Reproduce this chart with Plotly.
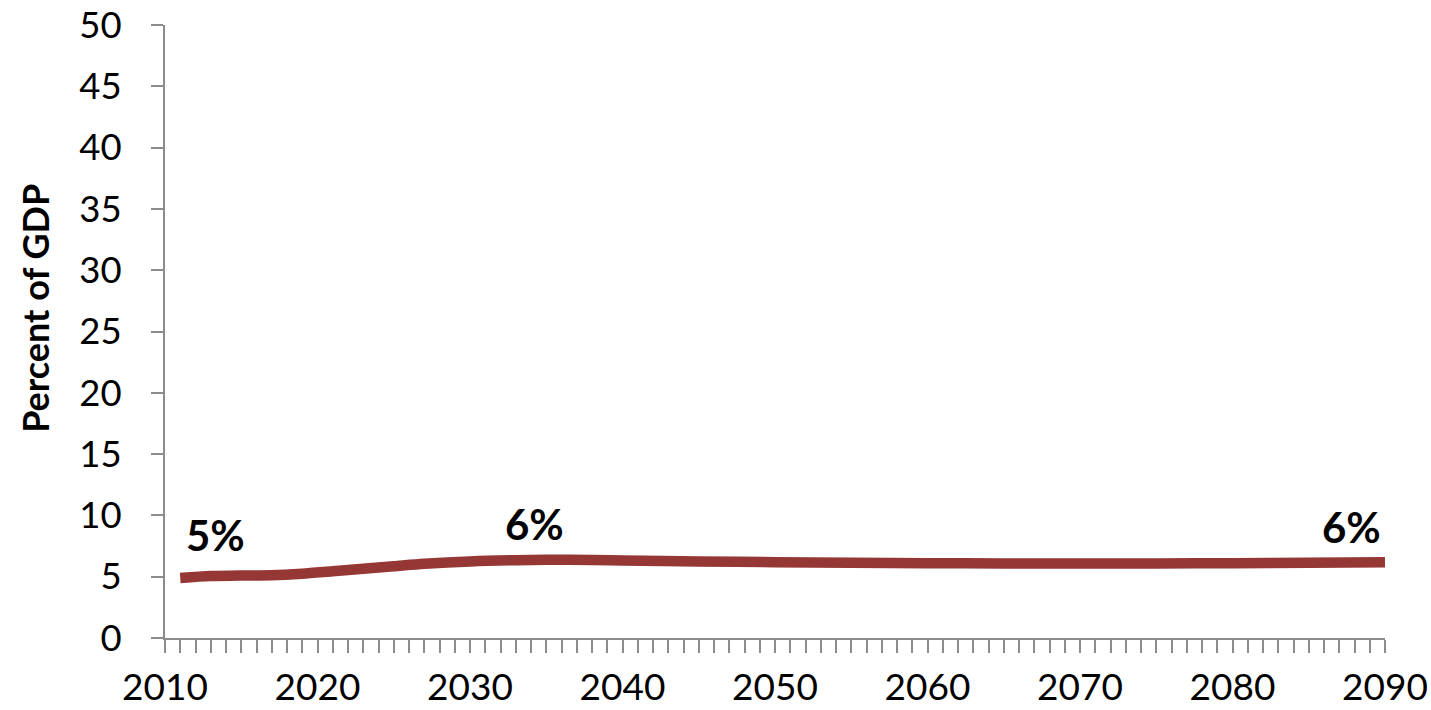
import plotly.graph_objects as go

years = [2011, 2013, 2015, 2017, 2019, 2021, 2023, 2025, 2027, 2030, 2033, 2035, 2038, 2040, 2045, 2050, 2055, 2060, 2065, 2070, 2075, 2080, 2085, 2090]
values = [4.9, 5.05, 5.1, 5.12, 5.25, 5.45, 5.65, 5.85, 6.05, 6.25, 6.35, 6.38, 6.36, 6.33, 6.25, 6.18, 6.13, 6.1, 6.08, 6.08, 6.08, 6.1, 6.13, 6.18]

label_years = [2011, 2035, 2090]
label_values = [4.9, 6.38, 6.18]
label_texts = ["5%", "6%", "6%"]

y_ticks = [0, 5, 10, 15, 20, 25, 30, 35, 40, 45, 50]
x_ticks = [2010, 2020, 2030, 2040, 2050, 2060, 2070, 2080, 2090]

FONT = "Lato"
AXIS_COLOR = "#8c8c8c"

fig = go.Figure()
fig.add_trace(go.Scatter(
    x=years, y=values, mode="lines",
    line=dict(color="#953735", width=10.5, shape="spline", smoothing=0.8),
    hoverinfo="skip", showlegend=False,
))

offsets = [(2.3, 3.5), (-0.8, 2.9), (-2.2, 2.9)]
for yr, v, t, (dx, dy) in zip(label_years, label_values, label_texts, offsets):
    fig.add_annotation(
        x=yr + dx, y=v + dy, text="<b>%s</b>" % t, showarrow=False,
        font=dict(family=FONT, size=42, color="black"),
        xanchor="center", yanchor="middle",
    )

fig.add_annotation(
    xref="paper", yref="paper", x=(35 - 165) / 1220, y=0.537,
    text="<b>Percent of GDP</b>", textangle=-90, showarrow=False,
    font=dict(family=FONT, size=36, color="black"),
    xanchor="center", yanchor="middle",
)

fig.update_layout(
    width=1431, height=710,
    margin=dict(l=165, r=46, t=25, b=72, autoexpand=False),
    paper_bgcolor="white", plot_bgcolor="white",
    xaxis=dict(
        range=[2010, 2090], tickvals=x_ticks, ticktext=[str(v) for v in x_ticks],
        ticks="outside", ticklen=13, tickwidth=2, tickcolor=AXIS_COLOR,
        minor=dict(dtick=1, tick0=2010, ticks="outside", ticklen=13, tickwidth=2, tickcolor=AXIS_COLOR, showgrid=False),
        showline=True, linecolor=AXIS_COLOR, linewidth=2,
        showgrid=False, zeroline=False, automargin=False,
        tickfont=dict(family=FONT, size=37, color="black"),
        ticklabelstandoff=3, ticklabeloverflow="allow",
    ),
    yaxis=dict(
        range=[0, 50], tickvals=y_ticks, ticktext=[str(v) for v in y_ticks],
        ticks="outside", ticklen=12, tickwidth=2, tickcolor=AXIS_COLOR,
        showline=True, linecolor=AXIS_COLOR, linewidth=2,
        showgrid=False, zeroline=False, automargin=False,
        tickfont=dict(family=FONT, size=36.5, color="black"),
        ticklabelstandoff=22, ticklabeloverflow="allow",
    ),
)

fig.write_html("out.html")
